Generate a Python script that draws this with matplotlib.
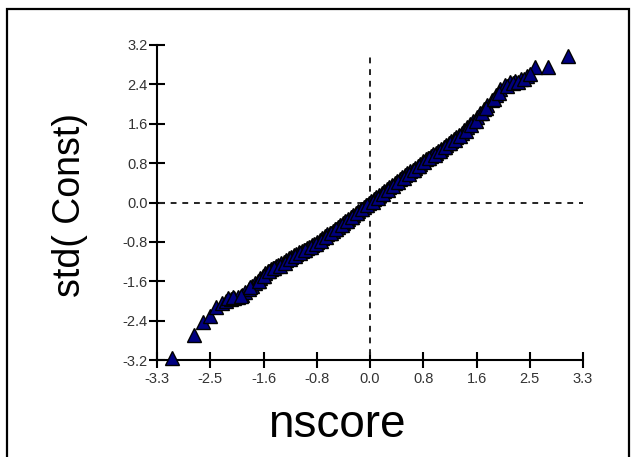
import matplotlib
matplotlib.use("Agg")
import matplotlib.pyplot as plt
from matplotlib import font_manager
from matplotlib.patches import Rectangle

# normal scores (x) and standardized residuals (y)
nscore = [-3.07, -2.73, -2.59, -2.48, -2.38, -2.30, -2.23, -2.16, -2.10, -2.04,
          -1.98, -1.93, -1.88, -1.83, -1.78, -1.74, -1.70, -1.66, -1.62, -1.58,
          -1.54, -1.50, -1.46, -1.42, -1.38, -1.34, -1.30, -1.26, -1.22, -1.18,
          -1.14, -1.10, -1.06, -1.02, -0.98, -0.94, -0.90, -0.86, -0.82, -0.78,
          -0.74, -0.70, -0.66, -0.62, -0.58, -0.54, -0.50, -0.46, -0.42, -0.38,
          -0.34, -0.30, -0.26, -0.22, -0.18, -0.14, -0.10, -0.06, -0.02, 0.02,
          0.06, 0.10, 0.14, 0.18, 0.22, 0.26, 0.30, 0.34, 0.38, 0.42,
          0.46, 0.50, 0.54, 0.58, 0.62, 0.66, 0.70, 0.74, 0.78, 0.82,
          0.86, 0.90, 0.94, 0.98, 1.02, 1.06, 1.10, 1.14, 1.18, 1.22,
          1.26, 1.30, 1.34, 1.38, 1.42, 1.46, 1.50, 1.55, 1.60, 1.66,
          1.71, 1.76, 1.82, 1.89, 1.95, 2.02, 2.09, 2.17, 2.25, 2.34,
          2.43, 2.56, 2.75, 3.07,
          -2.20, -2.12, -2.00, -1.86, -1.72, -1.64, -1.56, -1.48, -1.40, -1.32,
          -1.24, -1.16, -1.08, -1.00, -0.92, -0.84, -0.76, -0.68, -0.60, -0.52,
          -0.44, -0.36, -0.28, -0.20, -0.12, -0.04, 0.04, 0.12, 0.20, 0.28,
          0.36, 0.44, 0.52, 0.60, 0.68, 0.76, 0.84, 0.92, 1.00, 1.08,
          1.16, 1.24, 1.32, 1.40, 1.48, 1.57, 1.64, 1.74, 1.80, 1.92,
          2.00, 2.12, 2.21, 2.30, 2.39, 2.48]
std_const = [-3.15, -2.70, -2.42, -2.30, -2.12, -2.05, -2.00, -1.97, -1.95, -1.93,
             -1.88, -1.82, -1.76, -1.70, -1.64, -1.59, -1.54, -1.49, -1.44, -1.40,
             -1.36, -1.33, -1.30, -1.27, -1.23, -1.20, -1.16, -1.13, -1.10, -1.07,
             -1.04, -1.01, -0.99, -0.96, -0.93, -0.90, -0.87, -0.84, -0.81, -0.77,
             -0.73, -0.69, -0.65, -0.61, -0.57, -0.53, -0.49, -0.45, -0.41, -0.37,
             -0.33, -0.30, -0.26, -0.22, -0.18, -0.13, -0.09, -0.05, -0.01, 0.03,
             0.07, 0.11, 0.15, 0.19, 0.23, 0.27, 0.31, 0.35, 0.39, 0.43,
             0.47, 0.51, 0.55, 0.59, 0.63, 0.67, 0.71, 0.75, 0.79, 0.84,
             0.88, 0.91, 0.95, 0.98, 1.01, 1.05, 1.09, 1.13, 1.17, 1.21,
             1.25, 1.29, 1.33, 1.37, 1.42, 1.47, 1.53, 1.59, 1.65, 1.73,
             1.82, 1.90, 1.98, 2.09, 2.19, 2.30, 2.38, 2.44, 2.47, 2.51,
             2.57, 2.75, 2.76, 2.97,
             -1.95, -1.92, -1.90, -1.72, -1.60, -1.50, -1.40, -1.34, -1.28, -1.22,
             -1.14, -1.08, -1.02, -0.97, -0.90, -0.85, -0.78, -0.70, -0.62, -0.54,
             -0.46, -0.38, -0.30, -0.22, -0.14, -0.06, 0.01, 0.10, 0.17, 0.25,
             0.33, 0.41, 0.49, 0.58, 0.66, 0.74, 0.83, 0.90, 0.97, 1.05,
             1.12, 1.20, 1.28, 1.36, 1.46, 1.57, 1.66, 1.82, 1.92, 2.10,
             2.22, 2.37, 2.43, 2.45, 2.50, 2.62]

xticks = [-3.3, -2.475, -1.65, -0.825, 0.0, 0.825, 1.65, 2.475, 3.3]
xticklabels = ["-3.3", "-2.5", "-1.6", "-0.8", "0.0", "0.8", "1.6", "2.5", "3.3"]
yticks = [-3.2, -2.4, -1.6, -0.8, 0.0, 0.8, 1.6, 2.4, 3.2]
yticklabels = ["-3.2", "-2.4", "-1.6", "-0.8", "0.0", "0.8", "1.6", "2.4", "3.2"]

plt.rcParams["font.family"] = ["Liberation Sans", "DejaVu Sans"]

W, H = 631, 457
fig = plt.figure(figsize=(W / 100, H / 100), dpi=100)
ax = fig.add_axes([157 / W, 1 - 360 / H, (583 - 157) / W, (360 - 45) / H])

# outer frame of the picture
fig.patches.append(Rectangle((7 / W, -0.05), (629 - 7) / W, 1.05 - 9 / H,
                             transform=fig.transFigure, fill=False,
                             edgecolor="black", linewidth=1.6))

ax.plot([-3.27, 3.3], [0, 0], ls=(0, (3, 3)), color="#222222", lw=1.4)
ax.plot([0, 0], [-3.09, 3.05], ls=(0, (3, 3)), color="#222222", lw=1.4)

ax.plot(nscore, std_const, ls="none", marker="^", markersize=9.5,
        markerfacecolor="#000080", markeredgecolor="black", markeredgewidth=1.0,
        clip_on=False, zorder=3)

ax.set_xlim(-3.3, 3.3)
ax.set_ylim(-3.2, 3.2)
ax.set_xticks(xticks)
ax.set_xticklabels(xticklabels)
ax.set_yticks(yticks)
ax.set_yticklabels(yticklabels)

for s in ["top", "right"]:
    ax.spines[s].set_visible(False)
for s in ["left", "bottom"]:
    ax.spines[s].set_linewidth(1.5)

ax.tick_params(axis="x", direction="inout", length=11, width=1.5, pad=3,
               labelsize=10.5, labelcolor="#333333")
ax.tick_params(axis="y", direction="inout", length=12, width=1.5, pad=0.5,
               labelsize=10.5, labelcolor="#333333")

# the y label in the picture is condensed; use the narrow face if present
names = {f.name for f in font_manager.fontManager.ttflist}
if "Liberation Sans Narrow" in names:
    yfam, ysize = "Liberation Sans Narrow", 33
else:
    yfam, ysize = "Liberation Sans", 27
fig.text(70 / W, 1 - 205 / H, "std( Const)", rotation=90, ha="center",
         va="center", fontsize=ysize, family=yfam)
fig.text(337 / W, 1 - 425 / H, "nscore", ha="center", va="center",
         fontsize=33)

fig.savefig("out.png", dpi=100)
